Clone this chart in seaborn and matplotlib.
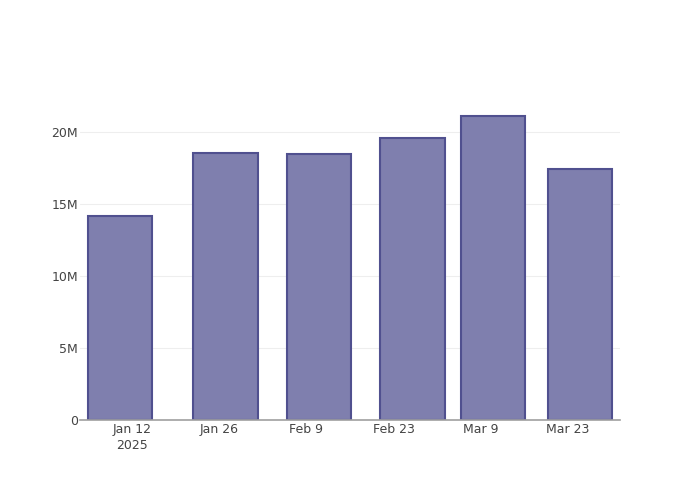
import pandas as pd
import matplotlib
matplotlib.use("Agg")
import matplotlib.pyplot as plt
import matplotlib.dates as mdates
import seaborn as sns

# === data ===
dates = ['2025-01-10', '2025-01-27', '2025-02-11', '2025-02-26', '2025-03-11', '2025-03-25']
values = [14.15e6, 18.5e6, 18.45e6, 19.58e6, 21.07e6, 17.4e6]
tick_dates = ['2025-01-12', '2025-01-26', '2025-02-09', '2025-02-23', '2025-03-09', '2025-03-23']
tick_labels = ['Jan 12\n2025', 'Jan 26', 'Feb 9', 'Feb 23', 'Mar 9', 'Mar 23']
y_ticks = [0, 5e6, 10e6, 15e6, 20e6]
y_tick_labels = ['0', '5M', '10M', '15M', '20M']

df = pd.DataFrame({'date': pd.to_datetime(dates), 'value': values})
df['x'] = mdates.date2num(df['date'])

sns.set_style('white')
plt.rcParams['font.family'] = ['DejaVu Sans']

fig = plt.figure(figsize=(7, 5), dpi=100)
ax = fig.add_axes([80 / 700, 80 / 500, 540 / 700, 320 / 500])

sns.barplot(data=df, x='x', y='value', native_scale=True, width=0.8,
            color='#7f7fae', saturation=1, edgecolor='#50508f', linewidth=1.5,
            ax=ax, zorder=3)

# x range (plotly pads a little beyond bar edges)
x0 = mdates.date2num(pd.Timestamp('2025-01-12')) - 8.42
x1 = mdates.date2num(pd.Timestamp('2025-03-23')) + 8.42
ax.set_xlim(x0, x1)
ax.set_ylim(0, 22.2e6)

ax.set_xticks(mdates.date2num(pd.to_datetime(tick_dates)))
ax.set_xticklabels(tick_labels)
ax.set_yticks(y_ticks)
ax.set_yticklabels(y_tick_labels)

ax.tick_params(axis='both', length=0, labelsize=9, labelcolor='#444444')
ax.tick_params(axis='x', pad=2)
ax.tick_params(axis='y', pad=1.5)
for lbl in ax.get_xticklabels():
    lbl.set_linespacing(1.3)

ax.grid(axis='y', color='#eeeeee', linewidth=0.8, zorder=0)
ax.set_axisbelow(True)
for side in ['top', 'right', 'left']:
    ax.spines[side].set_visible(False)
ax.spines['bottom'].set_color('#a0a0a0')
ax.spines['bottom'].set_linewidth(1.2)
ax.spines['bottom'].set_zorder(4)

ax.set_xlabel('')
ax.set_ylabel('')

fig.savefig('out.png', dpi=100)
